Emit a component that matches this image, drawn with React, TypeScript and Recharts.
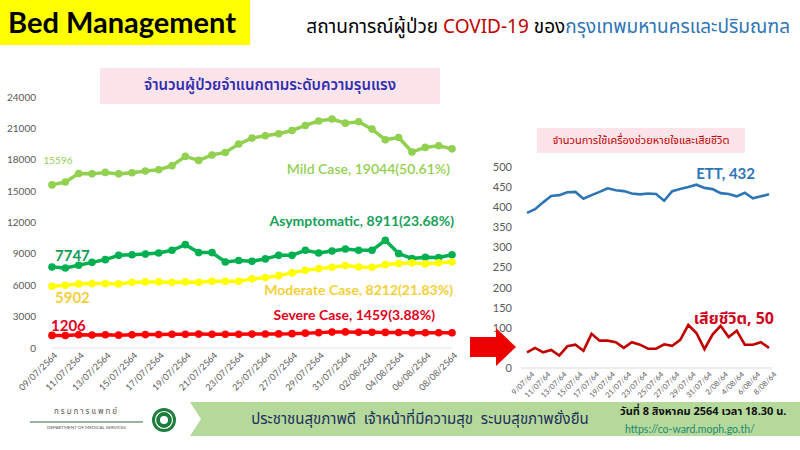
import React from "react";
import { LineChart, Line, XAxis, YAxis, LabelList } from "recharts";

// วันที่ 09/07/2564 - 08/08/2564
const dates = [
  "09/07/2564", "10/07/2564", "11/07/2564", "12/07/2564", "13/07/2564", "14/07/2564", "15/07/2564",
  "16/07/2564", "17/07/2564", "18/07/2564", "19/07/2564", "20/07/2564", "21/07/2564", "22/07/2564",
  "23/07/2564", "24/07/2564", "25/07/2564", "26/07/2564", "27/07/2564", "28/07/2564", "29/07/2564",
  "30/07/2564", "31/07/2564", "01/08/2564", "02/08/2564", "03/08/2564", "04/08/2564", "05/08/2564",
  "06/08/2564", "07/08/2564", "08/08/2564",
];
const shortDates = [
  "9/07/64", "10/07/64", "11/07/64", "12/07/64", "13/07/64", "14/07/64", "15/07/64",
  "16/07/64", "17/07/64", "18/07/64", "19/07/64", "20/07/64", "21/07/64", "22/07/64",
  "23/07/64", "24/07/64", "25/07/64", "26/07/64", "27/07/64", "28/07/64", "29/07/64",
  "30/07/64", "31/07/64", "1/08/64", "2/08/64", "3/08/64", "4/08/64", "5/08/64",
  "6/08/64", "7/08/64", "8/08/64",
];

const mild = [15596, 15870, 16680, 16650, 16790, 16650, 16750, 16920, 17050, 17430, 18320, 17940, 18450, 18700, 19500, 20070, 20290, 20480, 20800, 21280, 21700, 21890, 21500, 21630, 20930, 19910, 20130, 18740, 19180, 19340, 19044];
const asymptomatic = [7747, 7650, 7910, 8190, 8450, 8860, 8920, 8980, 9090, 9340, 9880, 9120, 9120, 8230, 8360, 8300, 8520, 8860, 8860, 9340, 9090, 9280, 9470, 9340, 9340, 10300, 9030, 8550, 8680, 8650, 8911];
const moderate = [5902, 6000, 6130, 6160, 6160, 6130, 6290, 6320, 6320, 6290, 6320, 6290, 6380, 6380, 6380, 6610, 6730, 6920, 7180, 7430, 7590, 7720, 7880, 7750, 7720, 7970, 8070, 8140, 8040, 8140, 8212];
const severe = [1206, 1200, 1260, 1250, 1260, 1230, 1270, 1280, 1290, 1310, 1320, 1330, 1320, 1320, 1320, 1330, 1340, 1350, 1370, 1420, 1470, 1520, 1540, 1500, 1500, 1490, 1480, 1470, 1460, 1460, 1459];

const ett = [386, 395, 412, 428, 430, 437, 438, 421, 430, 438, 447, 442, 440, 434, 432, 434, 433, 416, 440, 445, 450, 456, 448, 445, 435, 433, 427, 436, 422, 427, 432];
const deaths = [39, 50, 39, 45, 31, 54, 58, 43, 85, 68, 68, 64, 50, 64, 58, 48, 48, 59, 55, 70, 107, 87, 47, 83, 105, 77, 93, 58, 58, 64, 50];

const leftTicks = [0, 3000, 6000, 9000, 12000, 15000, 18000, 21000, 24000];
const rightTicks = [0, 50, 100, 150, 200, 250, 300, 350, 400, 450, 500];

const last = dates.length - 1;
const total = mild[last] + asymptomatic[last] + moderate[last] + severe[last];
const pct = (v: number) => ((v / total) * 100).toFixed(2) + "%";

const severityData = dates.map((date, i) => ({
  date,
  mild: mild[i],
  asymptomatic: asymptomatic[i],
  moderate: moderate[i],
  severe: severe[i],
}));
const ventData = shortDates.map((date, i) => ({ date, ett: ett[i], deaths: deaths[i] }));

const LATIN = "Lato, 'Noto Sans', sans-serif";
const THAI = "'Noto Sans Thai', 'Noto Sans', Lato, sans-serif";

const C_MILD = "#92d050";
const C_ASYM = "#00b050";
const C_MOD = "#ffff00";
const C_MOD_TXT = "#f5cf3a";
const C_SEV = "#ff0000";
const C_SEV_TXT = "#e3001b";
const C_ETT = "#2e75b6";
const C_DEATH = "#c00000";

// label drawn at one point of a series, positioned from the line's own scale
const pointLabel =
  (idx: number, text: string, dx: number, dy: number, color: string, size: number, anchor: string, weight = 700, family = LATIN) =>
  (p: any) => {
    if (p.index !== idx) return null;
    return (
      <text
        x={p.x + dx}
        y={p.y + dy}
        fill={color}
        fontSize={size}
        fontWeight={weight}
        fontFamily={family}
        textAnchor={anchor}
        dominantBaseline="central"
      >
        {text}
      </text>
    );
  };

const LeftTick = (p: any) => (
  <text
    x={p.x + 6}
    y={p.y + 8}
    transform={`rotate(-45 ${p.x + 6} ${p.y + 8})`}
    textAnchor="end"
    fontSize={9}
    fontFamily={LATIN}
    fill="#595959"
  >
    {p.payload.value}
  </text>
);

const RightTick = (p: any) => (
  <text
    x={p.x + 8}
    y={p.y + 7}
    transform={`rotate(-45 ${p.x + 8} ${p.y + 7})`}
    textAnchor="end"
    fontSize={7.5}
    fontFamily={LATIN}
    fill="#595959"
  >
    {p.payload.value}
  </text>
);

function SeverityChart() {
  return (
    <LineChart width={470} height={320} data={severityData} margin={{ top: 17, right: 18, left: 12, bottom: 2 }}>
      <XAxis
        dataKey="date"
        interval={1}
        height={50}
        tickSize={0}
        tickMargin={0}
        tickLine={false}
        stroke="#e4e4e4"
        tick={<LeftTick />}
      />
      <YAxis
        type="number"
        domain={[0, 24000]}
        ticks={leftTicks}
        width={40}
        axisLine={false}
        tickLine={false}
        tickSize={0}
        tickMargin={16}
        tick={{ fontSize: 10, fill: "#595959", fontFamily: LATIN }}
      />
      <Line dataKey="mild" stroke={C_MILD} strokeWidth={3.5} dot={{ r: 3.8, fill: C_MILD, strokeWidth: 0 }} isAnimationActive={false}>
        <LabelList content={pointLabel(0, String(mild[0]), 6, -25, C_MILD, 10, "middle", 400)} />
        <LabelList content={pointLabel(last, `Mild Case, ${mild[last]}(${pct(mild[last])})`, -2, 20, C_MILD, 14, "end", 600)} />
      </Line>
      <Line dataKey="asymptomatic" stroke={C_ASYM} strokeWidth={3.5} dot={{ r: 3.8, fill: C_ASYM, strokeWidth: 0 }} isAnimationActive={false}>
        <LabelList content={pointLabel(0, String(asymptomatic[0]), 3, -12, "#16995a", 15, "start")} />
        <LabelList content={pointLabel(last, `Asymptomatic, ${asymptomatic[last]}(${pct(asymptomatic[last])})`, 2, -34, "#16a05a", 14, "end")} />
      </Line>
      <Line dataKey="moderate" stroke={C_MOD} strokeWidth={3.5} dot={{ r: 3.8, fill: C_MOD, strokeWidth: 0 }} isAnimationActive={false}>
        <LabelList content={pointLabel(0, String(moderate[0]), 3, 11, C_MOD_TXT, 15, "start")} />
        <LabelList content={pointLabel(last, `Moderate Case, ${moderate[last]}(${pct(moderate[last])})`, 1, 27, C_MOD_TXT, 14, "end")} />
      </Line>
      <Line dataKey="severe" stroke={C_SEV} strokeWidth={3.5} dot={{ r: 3.8, fill: C_SEV, strokeWidth: 0 }} isAnimationActive={false}>
        <LabelList content={pointLabel(0, String(severe[0]), -1, -10, C_SEV_TXT, 15, "start")} />
        <LabelList content={pointLabel(last, `Severe Case, ${severe[last]}(${pct(severe[last])})`, -17, -18, C_SEV_TXT, 14, "end")} />
      </Line>
    </LineChart>
  );
}

function VentilatorChart() {
  return (
    <LineChart width={310} height={250} data={ventData} margin={{ top: 17, right: 8, left: 0, bottom: 2 }}>
      <XAxis
        dataKey="date"
        interval={1}
        height={30}
        padding={{ left: 6, right: 3 }}
        tickSize={0}
        tickMargin={0}
        tickLine={false}
        stroke="#d9d9d9"
        tick={<RightTick />}
      />
      <YAxis
        type="number"
        domain={[0, 500]}
        ticks={rightTicks}
        width={51}
        axisLine={false}
        tickLine={false}
        tickSize={0}
        tickMargin={9}
        tick={{ fontSize: 11, fill: "#595959", fontFamily: LATIN }}
      />
      <Line dataKey="ett" stroke={C_ETT} strokeWidth={2.6} dot={false} isAnimationActive={false}>
        <LabelList content={pointLabel(last, `ETT, ${ett[last]}`, -14, -21, C_ETT, 15, "end")} />
      </Line>
      <Line dataKey="deaths" stroke={C_DEATH} strokeWidth={2.6} dot={false} isAnimationActive={false}>
        <LabelList content={pointLabel(last, `เสียชีวิต, ${deaths[last]}`, 5, -29, "#d0021b", 16, "end", 700, THAI)} />
      </Line>
    </LineChart>
  );
}

export default function App() {
  return (
    <div style={{ position: "absolute", left: 0, top: 0, width: 800, height: 450, background: "#fff", overflow: "hidden", fontFamily: THAI }}>
      {/* header */}
      <div style={{ position: "absolute", left: 0, top: 0, width: 250, height: 45, background: "#ffff00" }} />
      <div style={{ position: "absolute", left: 8, top: 2, fontFamily: LATIN, fontWeight: 700, fontSize: 29, color: "#000", lineHeight: "40px" }}>
        Bed Management
      </div>
      <div style={{ position: "absolute", right: 10, top: 14, fontSize: 19, lineHeight: "28px", whiteSpace: "nowrap" }}>
        <span style={{ color: "#000" }}>สถานการณ์ผู้ป่วย </span>
        <span style={{ color: "#c00000" }}>COVID-19</span>
        <span style={{ color: "#000" }}> ของ</span>
        <span style={{ color: "#2e75b6" }}>กรุงเทพมหานครและปริมณฑล</span>
      </div>

      {/* left chart title */}
      <div style={{ position: "absolute", left: 100, top: 68, width: 340, height: 36, background: "#fde4ea", color: "#2f2fb0", fontSize: 15, fontWeight: 600, textAlign: "center", lineHeight: "36px" }}>
        จำนวนผู้ป่วยจำแนกตามระดับความรุนแรง
      </div>
      <div style={{ position: "absolute", left: 0, top: 80 }}>
        <SeverityChart />
      </div>

      {/* right chart title */}
      <div style={{ position: "absolute", left: 537, top: 128, width: 208, height: 25, background: "#fde4ea", color: "#c00000", fontSize: 11, textAlign: "center", lineHeight: "25px", whiteSpace: "nowrap" }}>
        จำนวนการใช้เครื่องช่วยหายใจและเสียชีวิต
      </div>
      <div style={{ position: "absolute", left: 470, top: 150 }}>
        <VentilatorChart />
      </div>

      {/* arrow and footer decoration */}
      <svg style={{ position: "absolute", left: 0, top: 0 }} width={800} height={450}>
        <polygon points="470,337 496,337 496,328 516,347 496,366 496,357 470,357" fill="#ee0000" />
        <polygon points="190,402 800,402 800,436 190,436 201,419" fill="#b5d99a" />
        <line x1={30} y1={422} x2={143} y2={422} stroke="#2e6b3c" strokeWidth={1} />
        <circle cx={164} cy={420} r={12} fill="#1e7d3c" />
        <circle cx={164} cy={420} r={8.5} fill="none" stroke="#fff" strokeWidth={1.2} />
        <circle cx={164} cy={420} r={4} fill="#fff" />
      </svg>
      <div style={{ position: "absolute", left: 30, top: 406, width: 113, textAlign: "center", fontSize: 8, color: "#555", letterSpacing: 2 }}>
        กรมการแพทย์
      </div>
      <div style={{ position: "absolute", left: 30, top: 425, width: 113, textAlign: "center", fontSize: 4.5, color: "#555", fontFamily: LATIN }}>
        DEPARTMENT OF MEDICAL SERVICES
      </div>
      <div style={{ position: "absolute", left: 230, top: 408, width: 380, textAlign: "center", fontSize: 15, color: "#1f2f5c", lineHeight: "24px", whiteSpace: "nowrap" }}>
        ประชาชนสุขภาพดี&nbsp; เจ้าหน้าที่มีความสุข&nbsp; ระบบสุขภาพยั่งยืน
      </div>
      <div style={{ position: "absolute", left: 620, top: 403, fontSize: 11, fontWeight: 700, color: "#111", whiteSpace: "nowrap" }}>
        วันที่ 8 สิงหาคม 2564 เวลา 18.30 น.
      </div>
      <div style={{ position: "absolute", left: 625, top: 423, fontSize: 10.5, color: "#1d8a73", fontFamily: LATIN, whiteSpace: "nowrap" }}>
        https://co-ward.moph.go.th/
      </div>
    </div>
  );
}
